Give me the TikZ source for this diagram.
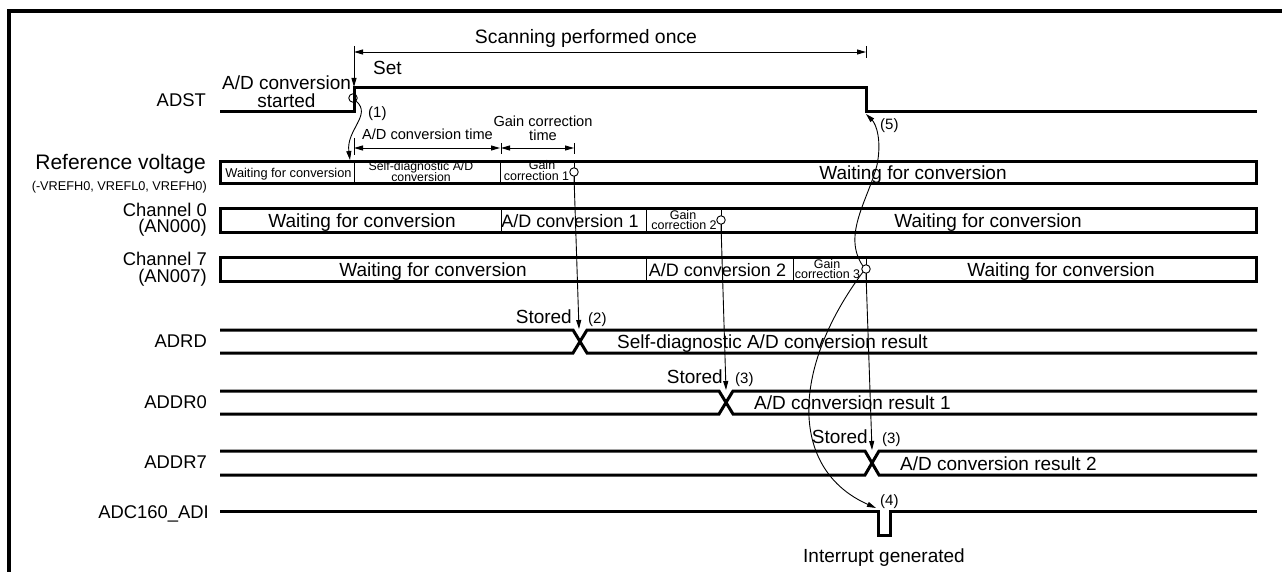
\documentclass[tikz,border=0pt]{standalone}
\usepackage{fontspec}
\setmainfont{Liberation Sans}
\usetikzlibrary{arrows.meta}
\newcommand\fsz[1]{\fontsize{#1}{#1}\selectfont}
\tikzset{
  sig/.style={line width=3pt, line join=miter},
  boxl/.style={line width=3pt},
  thin/.style={line width=0.9pt},
  arr/.style={line width=0.9pt, -{Triangle[length=9pt,width=5pt]}},
  dimarr/.style={line width=0.9pt, {Triangle[length=9pt,width=5pt]}-{Triangle[length=9pt,width=5pt]}},
  evt/.style={circle, draw, line width=0.9pt, inner sep=0pt, minimum size=8.5pt, fill=none},
  tx/.style={inner sep=0pt, font=\fsz{19}},
  lbl/.style={inner sep=0pt, font=\fsz{18.4}, anchor=base east},
  sm/.style={inner sep=0pt, font=\fsz{12.5}, anchor=base},
  num/.style={inner sep=0pt, font=\fsz{15}, anchor=base west},
  mid/.style={inner sep=0pt, font=\fsz{14.6}, anchor=base},
}
\begin{document}
\begin{tikzpicture}[x=1pt,y=-1pt]
\useasboundingbox (0,0) rectangle (1282,572);
% frame
\draw[line width=3.5pt] (9,572) -- (9,11) -- (1282,11);

% ---- left labels
\node[lbl] (lADST) at (206,107) {ADST};
\node[lbl, font=\fsz{21}] (lRef) at (206,169.5) {Reference voltage};
\node[lbl, font=\fsz{12.7}] (lRef2) at (207,191) {(-VREFH0, VREFL0, VREFH0)};
\node[lbl] (lCh0) at (207,216) {Channel 0};
\node[lbl] (lCh0b) at (207,233) {(AN000)};
\node[lbl] (lCh7) at (207,265.5) {Channel 7};
\node[lbl] (lCh7b) at (207,282.5) {(AN007)};
\node[lbl] (lADRD) at (207,347) {ADRD};
\node[lbl] (lADDR0) at (207,408) {ADDR0};
\node[lbl] (lADDR7) at (207,468) {ADDR7};
\node[lbl] (lADI) at (209,518) {ADC160\_ADI};

% ---- scanning dimension
\node[tx, font=\fsz{19.4}, anchor=base] (tScan) at (586,44) {Scanning performed once};
\coordinate (sL) at (354,52);
\coordinate (sR) at (866,52);
\draw[dimarr] (sL) -- (sR);
\draw[thin] (866,46) -- (866,58);
\coordinate (sTop) at (354,46);
\coordinate (riseTop) at (354,87);
\draw[arr] (sTop) -- (riseTop);
\node[tx, anchor=base west] (tSet) at (373,75) {Set};
\node[tx, anchor=base] (tStart1) at (286.5,90) {A/D conversion};
\node[tx, anchor=base] (tStart2) at (286.5,108) {started};

% ---- ADST waveform
\draw[sig] (220,112) -- (354,112) -- (354,88) -- (866,88) -- (866,112) -- (1257,112);
\node[evt] (cA) at (353,98) {};
\node[num] (n1) at (368,118) {(1)};
\node[num] (n5) at (880,130) {(5)};

% ---- conversion time dimensions
\draw[thin] (354,138) -- (354,155);
\draw[thin] (501,143) -- (501,154);
\draw[thin] (574,143) -- (574,154);
\coordinate (d1L) at (354,148);
\coordinate (d1R) at (500,148);
\coordinate (d2L) at (501,148);
\coordinate (d2R) at (574,148);
\draw[dimarr] (d1L) -- (d1R);
\draw[dimarr] (d2L) -- (d2R);
\node[mid] (tADt) at (427.5,140) {A/D conversion time};
\node[mid] (tGc1) at (543,126.5) {Gain correction};
\node[mid] (tGc2) at (543,140.5) {time};

% ---- reference voltage box
\draw[boxl] (220,161.5) rectangle (1256,183.5);
\draw[thin] (354,161.5) -- (354,183.5);
\draw[thin] (500.5,161.5) -- (500.5,183.5);
\draw[thin] (574,161.5) -- (574,183.5);
\node[sm, font=\fsz{12.8}] (rW) at (288.5,178) {Waiting for conversion};
\node[sm, font=\fsz{12.3}] (rS1) at (421,170.5) {Self-diagnostic A/D};
\node[sm, font=\fsz{12.3}] (rS2) at (421,181.5) {conversion};
\node[sm] (rG1) at (542,170) {Gain};
\node[sm] (rG2) at (536.5,181) {correction 1};
\node[tx, anchor=base] (rW2) at (913,180) {Waiting for conversion};
\node[evt, fill=white] (cR) at (574,172) {};

% ---- channel 0 box
\draw[boxl] (220,208.5) rectangle (1256,232);
\draw[thin] (501,208.5) -- (501,232);
\draw[thin] (646,208.5) -- (646,232);
\draw[thin] (721,208.5) -- (721,232);
\node[tx, anchor=base] (c0W) at (362,227) {Waiting for conversion};
\node[tx, font=\fsz{18}, anchor=base] (c0A) at (570,227) {A/D conversion 1};
\node[sm] (c0G1) at (683,219) {Gain};
\node[sm] (c0G2) at (684,229.5) {correction 2};
\node[tx, anchor=base] (c0W2) at (988,227) {Waiting for conversion};
\node[evt, fill=white] (cC0) at (721,220) {};

% ---- channel 7 box
\draw[boxl] (220,257.5) rectangle (1256,281);
\draw[thin] (646,257.5) -- (646,281);
\draw[thin] (793,257.5) -- (793,281);
\draw[thin] (866,257.5) -- (866,281);
\node[tx, anchor=base] (c7W) at (433,276) {Waiting for conversion};
\node[tx, font=\fsz{18}, anchor=base] (c7A) at (717.5,276) {A/D conversion 2};
\node[sm] (c7G1) at (827,268) {Gain};
\node[sm] (c7G2) at (827.5,278.5) {correction 3};
\node[tx, anchor=base] (c7W2) at (1061,276) {Waiting for conversion};
\node[evt, fill=white] (cC7) at (866,269) {};

% ---- ADRD bus
\draw[sig] (220,330) -- (573,330) -- (587,353) -- (1257,353);
\draw[sig] (220,353) -- (573,353) -- (587,330) -- (1257,330);
\node[tx, anchor=base west] (bADRD) at (617,348) {Self-diagnostic A/D conversion result};
\node[tx, anchor=base east] (sADRD) at (572,323) {Stored};
\node[num] (n2) at (588,323) {(2)};
\coordinate (xADRD) at (579,329);

% ---- ADDR0 bus
\draw[sig] (220,391) -- (719,391) -- (733,414) -- (1257,414);
\draw[sig] (220,414) -- (719,414) -- (733,391) -- (1257,391);
\node[tx, anchor=base west] (bADDR0) at (754,409) {A/D conversion result 1};
\node[tx, anchor=base east] (sADDR0) at (723,383) {Stored};
\node[num] (n3a) at (735,383) {(3)};
\coordinate (xADDR0) at (726,390);

% ---- ADDR7 bus
\draw[sig] (220,451) -- (865,451) -- (879,475) -- (1257,475);
\draw[sig] (220,475) -- (865,475) -- (879,451) -- (1257,451);
\node[tx, anchor=base west] (bADDR7) at (900,470) {A/D conversion result 2};
\node[tx, anchor=base east] (sADDR7) at (868,443) {Stored};
\node[num] (n3b) at (882,443) {(3)};
\coordinate (xADDR7) at (872,450);

% ---- ADC160_ADI
\draw[sig] (220,511) -- (878,511) -- (878,535) -- (890,535) -- (890,511) -- (1257,511);
\node[num] (n4) at (880,505) {(4)};
\node[tx, anchor=base] (tInt) at (884,562) {Interrupt generated};
\coordinate (pulse) at (876,508);
\coordinate (fallEdge) at (866,114);
\coordinate (refIn) at (350,160);

% ---- event arrows
\draw[arr] (cA.south east) .. controls (372,115) and (346,130) .. (refIn);
\draw[arr] (cR.south) -- (xADRD);
\draw[arr] (cC0.south) -- (xADDR0);
\draw[arr] (cC7.south) -- (xADDR7);
\draw[arr] (cC7.south west) .. controls (790,370) and (790,470) .. (pulse);
\draw[arr] (cC7.north west) .. controls (842,235) and (868,200) .. (877,165) .. controls (882,140) and (876,124) .. (fallEdge);
\end{tikzpicture}
\end{document}
